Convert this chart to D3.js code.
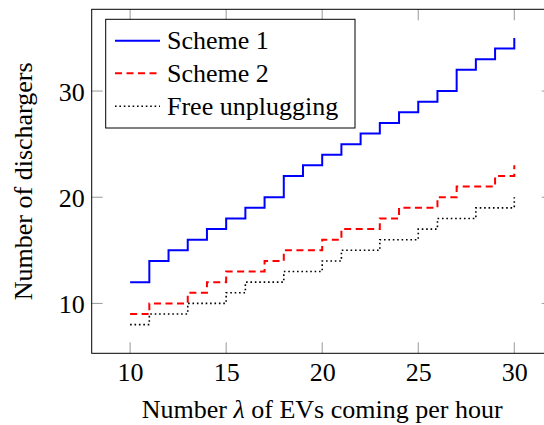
<!DOCTYPE html>
<html>
<head>
<meta charset="utf-8">
<script src="https://cdn.jsdelivr.net/npm/d3@7/dist/d3.min.js"></script>
<style>
  html, body { margin: 0; padding: 0; background: #fff; }
  svg { display: block; }
</style>
</head>
<body>
<svg id="chart" width="544" height="425"></svg>
<script>
// ---- data ----
const lambdas = [10,11,12,13,14,15,16,17,18,19,20,21,22,23,24,25,26,27,28,29,30];
const scheme1 = [12,14,15,16,17,18,19,20,22,23,24,25,26,27,28,29,30,32,33,34,35];
const scheme2 = [9,10,10,11,12,13,13,14,15,15,16,17,17,18,19,19,20,21,21,22,23];
const freeUnplug = [8,9,9,10,10,11,12,12,13,13,14,15,15,16,16,17,18,18,19,19,20];
const seriesNames = ["Scheme 1", "Scheme 2", "Free unplugging"];
const xTicks = [10,15,20,25,30];
const yTicks = [10,20,30];

const series = [
  {name: seriesNames[0], values: scheme1, color: "#0000ff", dash: null, width: 2},
  {name: seriesNames[1], values: scheme2, color: "#ff0000", dash: "7,4.5", width: 2},
  {name: seriesNames[2], values: freeUnplug, color: "#000000", dash: "1.6,2.8", width: 1.6}
];

const FONT = "Liberation Serif";
const FS = 26;
const svg = d3.select("#chart");
const L = 91.7, R = 552.7, T = 9.3, B = 353.3;
const x = d3.scaleLinear().domain([8, 32]).range([L, R]);
const y = d3.scaleLinear().domain([5.3, 37.7]).range([B, T]);
const tickLen = 11;
const tickColor = "#999";

// ticks (inward, all four sides)
const g = svg.append("g");
xTicks.forEach(v => {
  g.append("line").attr("x1", x(v)).attr("x2", x(v)).attr("y1", B).attr("y2", B - tickLen)
    .attr("stroke", tickColor).attr("stroke-width", 1);
  g.append("line").attr("x1", x(v)).attr("x2", x(v)).attr("y1", T).attr("y2", T + tickLen)
    .attr("stroke", tickColor).attr("stroke-width", 1);
});
yTicks.forEach(v => {
  g.append("line").attr("x1", L).attr("x2", L + tickLen).attr("y1", y(v)).attr("y2", y(v))
    .attr("stroke", tickColor).attr("stroke-width", 1);
  g.append("line").attr("x1", R).attr("x2", R - tickLen).attr("y1", y(v)).attr("y2", y(v))
    .attr("stroke", tickColor).attr("stroke-width", 1);
});

// tick labels via axes
const xAxis = d3.axisBottom(x).tickValues(xTicks).tickSize(0).tickPadding(0);
const xa = svg.append("g").attr("transform", `translate(0,${B})`).call(xAxis)
  .attr("font-family", FONT).attr("font-size", FS);
xa.select(".domain").remove();
xa.selectAll("text").attr("font-family", FONT).attr("font-size", FS)
  .attr("dy", null).attr("y", 28).attr("fill", "#000");

const yAxis = d3.axisLeft(y).tickValues(yTicks).tickSize(0).tickPadding(0);
const ya = svg.append("g").attr("transform", `translate(${L - 7},0)`).call(yAxis)
  .attr("font-family", FONT).attr("font-size", FS);
ya.select(".domain").remove();
ya.selectAll("text").attr("font-family", FONT).attr("font-size", FS)
  .attr("dy", "0.35em").attr("x", 0).attr("fill", "#000");

// lines
const line = d3.line().x((d, i) => x(lambdas[i])).y(d => y(d)).curve(d3.curveStepAfter);
series.forEach(s => {
  svg.append("path").datum(s.values)
    .attr("d", line)
    .attr("fill", "none")
    .attr("stroke", s.color)
    .attr("stroke-width", s.width)
    .attr("stroke-dasharray", s.dash);
});

// frame
svg.append("rect").attr("x", L).attr("y", T).attr("width", R - L).attr("height", B - T)
  .attr("fill", "none").attr("stroke", "#000").attr("stroke-width", 1);

// legend
const lg = svg.append("g");
lg.append("rect").attr("x", 105.7).attr("y", 19.3).attr("width", 249.3).attr("height", 108.7)
  .attr("fill", "#fff").attr("stroke", "#000").attr("stroke-width", 1);
const rowY = [40.7, 73.2, 106.2];
series.forEach((s, i) => {
  lg.append("line").attr("x1", 115).attr("x2", 160).attr("y1", rowY[i]).attr("y2", rowY[i])
    .attr("stroke", s.color).attr("stroke-width", s.width).attr("stroke-dasharray", s.dash);
  lg.append("text").attr("x", 167).attr("y", rowY[i] + 8.5).attr("font-family", FONT)
    .attr("font-size", FS).attr("fill", "#000").text(s.name);
});

// axis titles
const xt = svg.append("text").attr("x", (L + R) / 2).attr("y", 418).attr("text-anchor", "middle")
  .attr("font-family", FONT).attr("font-size", FS).attr("fill", "#000");
xt.append("tspan").text("Number ");
xt.append("tspan").attr("font-style", "italic").text("λ");
xt.append("tspan").text(" of EVs coming per hour");

svg.append("text").attr("transform", `translate(32,${(T + B) / 2}) rotate(-90)`)
  .attr("text-anchor", "middle").attr("font-family", FONT).attr("font-size", FS)
  .attr("fill", "#000").text("Number of dischargers");
</script>
</body>
</html>
